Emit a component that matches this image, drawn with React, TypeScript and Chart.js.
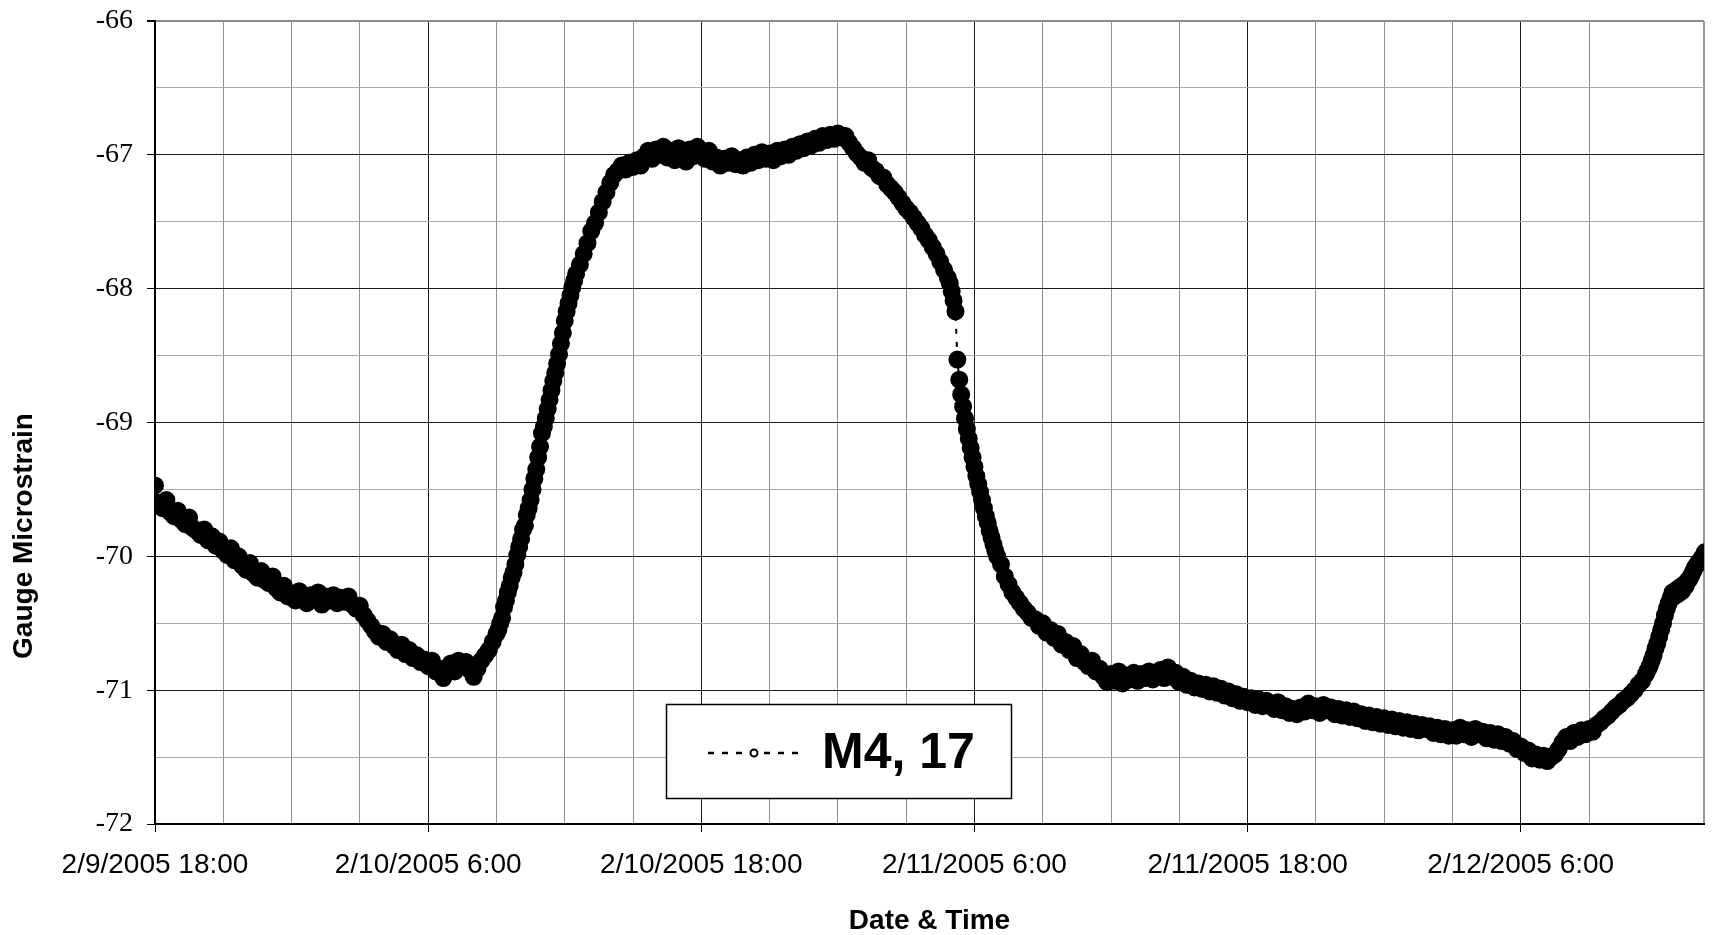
import React, { useEffect, useRef } from 'react';
import { Chart, registerables } from 'chart.js';

Chart.register(...registerables);

const seriesName = 'M4, 17';
const xAxisTitle = 'Date & Time';
const yAxisTitle = 'Gauge Microstrain';

// x axis: hours after 2/9/2005 18:00
const xTickLabels = [
  '2/9/2005 18:00',
  '2/10/2005 6:00',
  '2/10/2005 18:00',
  '2/11/2005 6:00',
  '2/11/2005 18:00',
  '2/12/2005 6:00',
];
const xMinHours = 0;
const xMaxHours = 68.05;
const xMajorHours = 12;
const xMinorHours = 3;

const yMin = -72;
const yMax = -66;
const yMinorStep = 0.5;

// Readings: start (minutes after 2/9/2005 18:00), sampling interval (minutes), values (microstrain)
const seg1StartMin = 0;
const seg1StepMin = 10;
const seg1Values = [
  -69.47, -69.6, -69.64, -69.58, -69.67, -69.7,
  -69.66, -69.73, -69.76, -69.71, -69.79, -69.81,
  -69.84, -69.8, -69.88, -69.85, -69.92, -69.89,
  -69.96, -69.99, -69.94, -70.03, -70.0, -70.07,
  -70.1, -70.05, -70.13, -70.16, -70.11, -70.18,
  -70.2, -70.15, -70.24, -70.27, -70.22, -70.3,
  -70.28, -70.33, -70.26, -70.31, -70.35, -70.29,
  -70.32, -70.27, -70.36, -70.3, -70.33, -70.29,
  -70.35, -70.31, -70.34, -70.3, -70.36, -70.39,
  -70.37, -70.44, -70.48, -70.52, -70.56, -70.6,
  -70.58, -70.64, -70.62, -70.67, -70.7, -70.66,
  -70.73, -70.7, -70.76, -70.74, -70.79, -70.77,
  -70.82, -70.78, -70.86, -70.84, -70.91, -70.83,
  -70.8, -70.86, -70.78, -70.82, -70.79, -70.85,
  -70.9, -70.84, -70.78, -70.74, -70.7, -70.64,
  -70.58,
];

const seg2StartMin = 905;
const seg2StepMin = 5;
const seg2Values = [
  -70.55, -70.5, -70.46, -70.38, -70.33, -70.27, -70.22, -70.16, -70.12, -70.06, -69.99, -69.93,
  -69.87, -69.8, -69.77, -69.69, -69.64, -69.58, -69.5, -69.42, -69.35, -69.26, -69.18, -69.08,
  -69.03, -68.97, -68.9, -68.83, -68.76, -68.69, -68.63, -68.56, -68.49, -68.41, -68.33, -68.24,
  -68.17, -68.11, -68.05, -67.99, -67.94, -67.89,
];

const seg3StartMin = 1120;
const seg3StepMin = 10;
const seg3Values = [
  -67.82, -67.74,
  -67.66, -67.57, -67.51, -67.43, -67.35, -67.28,
  -67.21, -67.15, -67.12, -67.08, -67.11, -67.06,
  -67.09, -67.04, -67.08, -67.01, -66.97, -67.03,
  -66.96, -67.0, -66.94, -67.02, -66.97, -67.04,
  -66.95, -66.99, -67.05, -66.96, -67.01, -66.94,
  -66.98, -67.03, -66.97, -67.05, -67.02, -67.08,
  -67.03, -67.06, -67.01, -67.07, -67.04, -67.08,
  -67.02, -67.06, -67.0, -67.04, -66.98, -67.03,
  -66.99, -67.04, -66.97, -67.01, -66.96, -67.0,
  -66.94, -66.97, -66.92, -66.95, -66.9, -66.93,
  -66.88, -66.91, -66.86, -66.89, -66.85, -66.88,
  -66.84, -66.87, -66.86, -66.91, -66.95, -66.99,
  -67.02, -67.06, -67.04, -67.1, -67.12, -67.16,
  -67.17, -67.22, -67.25, -67.28, -67.32, -67.36,
  -67.4, -67.43, -67.47, -67.51, -67.55, -67.6,
  -67.64, -67.69, -67.74, -67.8, -67.86, -67.92,
];

const seg4StartMin = 2095;
const seg4StepMin = 5;
const seg4Values = [
  -67.96, -68.02, -68.09, -68.17, -68.53, -68.68, -68.79, -68.88, -68.97, -69.05, -69.12, -69.19,
  -69.26, -69.33, -69.4, -69.46, -69.52, -69.58, -69.64, -69.7, -69.75, -69.81, -69.86, -69.91,
  -69.96, -70.0,
];

const seg5StartMin = 2230;
const seg5StepMin = 10;
const seg5Values = [
  -70.06, -70.15, -70.21, -70.27, -70.31,
  -70.35, -70.39, -70.42, -70.46, -70.47, -70.52,
  -70.5, -70.57, -70.55, -70.61, -70.58, -70.66,
  -70.64, -70.7, -70.67, -70.76, -70.73, -70.79,
  -70.82, -70.78, -70.86, -70.84, -70.9, -70.94,
  -70.88, -70.93, -70.86, -70.95, -70.89, -70.92,
  -70.87, -70.93, -70.88, -70.91, -70.86, -70.92,
  -70.89, -70.85, -70.91, -70.83, -70.9, -70.87,
  -70.94, -70.9, -70.96, -70.93, -70.98, -70.95,
  -70.99, -70.96, -71.01, -70.97, -71.02, -70.99,
  -71.04, -71.01, -71.06, -71.03, -71.08, -71.05,
  -71.09, -71.06, -71.11, -71.07, -71.12, -71.08,
  -71.1, -71.14, -71.09, -71.15, -71.12, -71.17,
  -71.14, -71.18, -71.13, -71.16, -71.1, -71.15,
  -71.12, -71.17, -71.11, -71.15, -71.13, -71.18,
  -71.14, -71.19, -71.15, -71.2, -71.16, -71.21,
  -71.18, -71.23, -71.19, -71.24, -71.2, -71.25,
  -71.21, -71.26, -71.22, -71.27, -71.23, -71.28,
  -71.24, -71.29, -71.25, -71.3, -71.26, -71.29,
  -71.27, -71.32, -71.28, -71.33, -71.29, -71.34,
  -71.3, -71.34, -71.28, -71.33, -71.3, -71.35,
  -71.29, -71.33, -71.31, -71.36, -71.32, -71.37,
  -71.33, -71.38, -71.35, -71.4, -71.38, -71.44,
  -71.42, -71.47, -71.45, -71.51, -71.48, -71.52,
  -71.49, -71.53, -71.5, -71.48, -71.44, -71.39,
  -71.35, -71.38, -71.32, -71.35, -71.3, -71.33,
  -71.29, -71.31, -71.26, -71.24, -71.21, -71.19,
  -71.16, -71.13, -71.11, -71.08, -71.06, -71.03,
  -71.0, -70.96, -70.93, -70.88,
];

const seg6StartMin = 3935;
const seg6StepMin = 5;
const seg6Values = [
  -70.85, -70.82, -70.78, -70.74, -70.69, -70.65, -70.6, -70.55, -70.5, -70.44, -70.39, -70.35,
  -70.31, -70.27, -70.3, -70.25, -70.28, -70.23, -70.26, -70.21, -70.22, -70.18, -70.17, -70.14,
  -70.11, -70.08, -70.06, -70.04, -70.02, -70.0, -69.97,
];

const segments = [
  { startMin: seg1StartMin, stepMin: seg1StepMin, values: seg1Values },
  { startMin: seg2StartMin, stepMin: seg2StepMin, values: seg2Values },
  { startMin: seg3StartMin, stepMin: seg3StepMin, values: seg3Values },
  { startMin: seg4StartMin, stepMin: seg4StepMin, values: seg4Values },
  { startMin: seg5StartMin, stepMin: seg5StepMin, values: seg5Values },
  { startMin: seg6StartMin, stepMin: seg6StepMin, values: seg6Values },
];

function buildPoints() {
  const pts: { x: number; y: number }[] = [];
  segments.forEach((s) => {
    s.values.forEach((v, i) => {
      pts.push({ x: (s.startMin + i * s.stepMin) / 60, y: v });
    });
  });
  return pts;
}

const W = 1715;
const H = 935;
const SANS = '"Liberation Sans", Arial, sans-serif';
const SERIF = '"Liberation Serif", "Times New Roman", serif';

export default function App() {
  const ref = useRef<HTMLCanvasElement | null>(null);

  useEffect(() => {
    const canvas = ref.current;
    if (!canvas) return;
    const isMajorX = (v: number) => Math.abs(v / xMajorHours - Math.round(v / xMajorHours)) < 1e-6;
    const isMaxX = (v: number) => v >= xMaxHours - 1e-6;
    const isIntY = (v: number) => Math.abs(v - Math.round(v)) < 1e-6;

    const decor = {
      id: 'decor',
      afterDraw(chart: any) {
        const ctx = chart.ctx as CanvasRenderingContext2D;
        const area = chart.chartArea;
        ctx.save();
        ctx.fillStyle = '#000';
        ctx.font = `bold 28px ${SANS}`;
        ctx.textAlign = 'center';
        ctx.textBaseline = 'middle';
        ctx.save();
        ctx.translate(24, 536);
        ctx.rotate(-Math.PI / 2);
        ctx.fillText(yAxisTitle, 0, 0);
        ctx.restore();
        ctx.fillText(xAxisTitle, (area.left + area.right) / 2, 921);

        // legend box
        const bx = 666, by = 704, bw = 346, bh = 95;
        ctx.fillStyle = '#fff';
        ctx.fillRect(bx, by, bw, bh);
        ctx.strokeStyle = '#000';
        ctx.lineWidth = 1.5;
        ctx.strokeRect(bx + 0.5, by + 0.5, bw - 1, bh - 1);
        const ly = 753;
        ctx.lineWidth = 2.5;
        ctx.setLineDash([6, 8]);
        ctx.beginPath();
        ctx.moveTo(708, ly);
        ctx.lineTo(806, ly);
        ctx.stroke();
        ctx.setLineDash([]);
        ctx.beginPath();
        ctx.arc(754, ly, 3.5, 0, Math.PI * 2);
        ctx.fillStyle = '#fff';
        ctx.fill();
        ctx.lineWidth = 2;
        ctx.stroke();
        ctx.fillStyle = '#000';
        ctx.font = `bold 50px ${SANS}`;
        ctx.textAlign = 'left';
        ctx.textBaseline = 'alphabetic';
        ctx.fillText(seriesName, 822, 768);
        ctx.restore();
      },
    };

    const chart = new Chart(canvas, {
      type: 'line',
      data: {
        datasets: [
          {
            label: seriesName,
            data: buildPoints(),
            borderColor: '#000',
            borderWidth: 2,
            borderDash: [5, 8],
            fill: false,
            tension: 0,
            pointStyle: 'circle',
            pointRadius: 7.5,
            pointBorderWidth: 3,
            pointBackgroundColor: '#000',
            pointBorderColor: '#000',
          },
        ],
      },
      options: {
        responsive: false,
        animation: false,
        devicePixelRatio: 1,
        layout: { padding: { top: 21, right: 11, left: 0, bottom: 0 } },
        plugins: {
          legend: { display: false },
          tooltip: { enabled: false },
        },
        scales: {
          x: {
            type: 'linear',
            min: xMinHours,
            max: xMaxHours,
            afterFit: (scale: any) => {
              scale.height = 111;
              scale.paddingLeft = 0;
              scale.paddingRight = 0;
            },
            ticks: {
              stepSize: xMinorHours,
              autoSkip: false,
              maxRotation: 0,
              minRotation: 0,
              padding: 16,
              color: '#000',
              font: { family: SANS, size: 28 },
              callback: (value: any) => {
                const v = Number(value);
                if (isMaxX(v) || !isMajorX(v)) return '';
                return xTickLabels[Math.round(v / xMajorHours)] ?? '';
              },
            },
            grid: {
              color: (c: any) => {
                const v = c.tick ? c.tick.value : 0;
                if (isMaxX(v)) return '#9a9a9a';
                return isMajorX(v) ? '#1a1a1a' : '#8f8f8f';
              },
              lineWidth: (c: any) => {
                const v = c.tick ? c.tick.value : 0;
                return isMaxX(v) ? 2 : 1;
              },
              tickColor: (c: any) => {
                const v = c.tick ? c.tick.value : 0;
                return !isMaxX(v) && isMajorX(v) ? '#000' : 'rgba(0,0,0,0)';
              },
              tickLength: 8,
              drawTicks: true,
            },
            border: { display: true, color: '#000', width: 2 },
          },
          y: {
            type: 'linear',
            min: yMin,
            max: yMax,
            afterFit: (scale: any) => {
              scale.width = 155;
              scale.paddingTop = 0;
              scale.paddingBottom = 0;
            },
            ticks: {
              stepSize: yMinorStep,
              autoSkip: false,
              padding: 14,
              color: '#000',
              font: { family: SERIF, size: 28 },
              callback: (value: any) => {
                const v = Number(value);
                return isIntY(v) ? String(Math.round(v)) : '';
              },
            },
            grid: {
              color: (c: any) => {
                const v = c.tick ? c.tick.value : 0;
                if (Math.abs(v - yMax) < 1e-6) return '#8a8a8a';
                return isIntY(v) ? '#1a1a1a' : '#a8a8a8';
              },
              lineWidth: (c: any) => {
                const v = c.tick ? c.tick.value : 0;
                return Math.abs(v - yMax) < 1e-6 ? 2 : 1;
              },
              tickColor: (c: any) => {
                const v = c.tick ? c.tick.value : 0;
                return isIntY(v) ? '#000' : 'rgba(0,0,0,0)';
              },
              tickLength: 8,
              drawTicks: true,
            },
            border: { display: true, color: '#000', width: 2 },
          },
        },
      } as any,
      plugins: [decor],
    });
    return () => chart.destroy();
  }, []);

  return (
    <div style={{ position: 'absolute', left: 0, top: 0, width: W, height: H, background: '#fff' }}>
      <canvas ref={ref} width={W} height={H} style={{ width: W, height: H, display: 'block' }} />
    </div>
  );
}
